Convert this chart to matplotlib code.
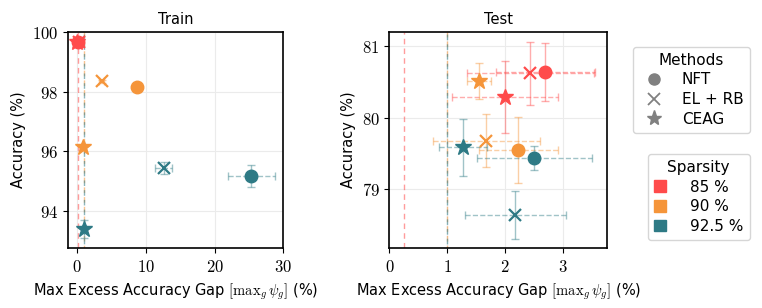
import matplotlib
matplotlib.use("Agg")
import matplotlib.pyplot as plt
from matplotlib.lines import Line2D
from matplotlib.patches import Patch
from matplotlib.ticker import FuncFormatter

plt.rcParams['font.family'] = ['DejaVu Sans']
plt.rcParams['mathtext.fontset'] = 'cm'
plt.rcParams['font.size'] = 10.5

# sparsity levels and methods
sparsity = ["85 %", "90 %", "92.5 %"]
colors = ["#FF4B4B", "#F5953A", "#2E7A85"]
methods = ["NFT", "EL + RB", "CEAG"]
markers = ["o", "x", "*"]
msizes = [9, 9, 12]

# train: [sparsity][method]
train_gap = [[0.2, 0.3, 0.1], [8.7, 3.6, 0.9], [25.3, 12.6, 1.1]]
train_gap_err = [[0.3, 0.3, 0.3], [0.4, 0.4, 0.3], [3.4, 1.2, 0.3]]
train_acc = [[99.66, 99.68, 99.67], [98.15, 98.35, 96.13], [95.15, 95.43, 93.4]]
train_acc_err = [[0.05, 0.05, 0.05], [0.05, 0.05, 0.05], [0.37, 0.2, 0.3]]

test_gap = [[2.70, 2.44, 2.00], [2.23, 1.68, 1.55], [2.51, 2.18, 1.27]]
test_gap_err = [[0.85, 1.10, 0.92], [0.68, 0.92, 0.21], [1.00, 0.87, 0.42]]
test_acc = [[80.64, 80.62, 80.29], [79.55, 79.68, 80.51], [79.44, 78.64, 79.59]]
test_acc_err = [[0.41, 0.44, 0.50], [0.46, 0.37, 0.25], [0.17, 0.33, 0.40]]

# target tolerance lines
tol = [0.25, 1.0, 1.0]

fig = plt.figure(figsize=(7.62, 3.08), dpi=100)
ax1 = fig.add_axes([0.089, 0.195, 0.283, 0.701])
ax2 = fig.add_axes([0.511, 0.195, 0.286, 0.701])

def draw(ax, gap, gerr, acc, aerr):
    for s in range(3):
        ax.axvline(tol[s], color=colors[s], ls=(s * 2, (4, 3)), lw=1, alpha=0.55, zorder=1)
    for s in range(3):
        for m in range(3):
            eb = ax.errorbar(gap[s][m], acc[s][m], xerr=gerr[s][m], yerr=aerr[s][m],
                             fmt='none', ecolor=colors[s], elinewidth=1, capsize=3,
                             alpha=0.45, zorder=2)
            eb[-1][0].set_linestyle('--')
            ax.plot(gap[s][m], acc[s][m], marker=markers[m], color=colors[s],
                    ms=msizes[m], mew=1.6 if markers[m] == 'x' else 1, ls='none', zorder=3)
    ax.grid(True, color='#ebebeb', lw=0.8)
    ax.set_axisbelow(True)
    ax.xaxis.set_major_formatter(FuncFormatter(lambda v, p: f'${v:g}$'))
    ax.yaxis.set_major_formatter(FuncFormatter(lambda v, p: f'${v:g}$'))
    ax.tick_params(labelsize=12)
    ax.set_ylabel('Accuracy (%)')
    ax.set_xlabel(r'Max Excess Accuracy Gap $[\mathrm{max}_g\,\psi_g]$ (%)')
    for sp in ax.spines.values():
        sp.set_linewidth(1.2)

draw(ax1, train_gap, train_gap_err, train_acc, train_acc_err)
ax1.set_xlim(-1.3, 30)
ax1.set_ylim(92.75, 100)
ax1.set_xticks([0, 10, 20, 30])
ax1.set_yticks([94, 96, 98, 100])
ax1.set_title('Train', fontsize=10.5)

draw(ax2, test_gap, test_gap_err, test_acc, test_acc_err)
ax2.set_xlim(0, 3.77)
ax2.set_ylim(78.18, 81.2)
ax2.set_xticks([0, 1, 2, 3])
ax2.set_yticks([79, 80, 81])
ax2.set_title('Test', fontsize=10.5)

h1 = [Line2D([], [], marker=markers[m], color='gray', ls='none', ms=msizes[m] - 1,
             mew=1.3 if markers[m] == 'x' else 1) for m in range(3)]
leg1 = fig.legend(h1, methods, title='Methods', loc='upper right',
                  bbox_to_anchor=(0.994, 0.873), fontsize=11, title_fontsize=11,
                  handletextpad=0.8, borderpad=0.4, labelspacing=0.3)
h2 = [Patch(color=c) for c in colors]
leg2 = fig.legend(h2, sparsity, title='Sparsity', loc='upper right',
                  bbox_to_anchor=(0.994, 0.525), fontsize=11, title_fontsize=11,
                  handlelength=0.8, handleheight=0.8, handletextpad=1.6,
                  borderpad=0.4, labelspacing=0.3)

fig.savefig('out.png', dpi=100)
